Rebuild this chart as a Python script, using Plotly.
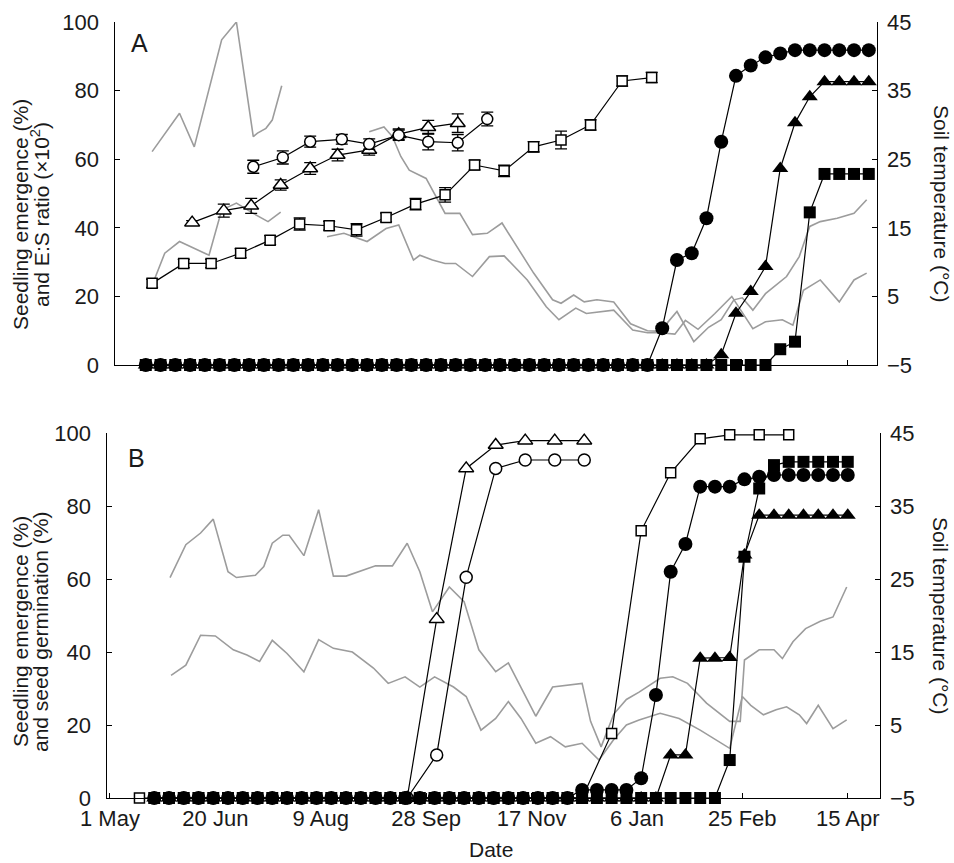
import plotly.graph_objects as go

# ---------------- data ----------------
tick_days = [0, 50, 100, 150, 200, 250, 300, 350]
tick_text = ["1 May", "20 Jun", "9 Aug", "28 Sep", "17 Nov", "6 Jan", "25 Feb", "15 Apr"]
pct_ticks = [0, 20, 40, 60, 80, 100]
pct_text = ["0", "20", "40", "60", "80", "100"]
temp_ticks = [-5, 5, 15, 25, 35, 45]
temp_text = ["\u22125", "5", "15", "25", "35", "45"]

# Panel A - open series with error bars
a_sq_days = [20, 35, 48, 62, 76, 90, 104, 117, 131, 145, 159, 173, 187, 201, 214, 228, 243, 257]
a_sq_vals = [23.8, 29.6, 29.6, 32.6, 36.4, 41.1, 40.6, 39.4, 43.0, 46.9, 49.6, 58.3, 56.6, 63.6, 65.6, 70.0, 82.8, 83.8]
a_sq_err = [1.2, 1.2, 1.2, 1.3, 1.3, 1.8, 1.3, 1.8, 1.3, 1.7, 2.1, 1.4, 1.7, 1.5, 2.6, 1.5, 1.5, 1.5]

a_ci_days = [68, 82, 95, 110, 123, 137, 151, 165, 179]
a_ci_vals = [57.8, 60.5, 65.1, 65.8, 64.4, 67.0, 65.1, 64.8, 71.7]
a_ci_err = [1.9, 1.9, 1.6, 1.4, 1.5, 1.5, 2.4, 2.4, 2.0]

a_tr_days = [39, 54, 67, 81, 95, 108, 123, 137, 151, 165]
a_tr_vals = [41.5, 45.0, 46.4, 52.5, 57.3, 61.2, 62.7, 67.3, 69.3, 70.5]
a_tr_err = [0.6, 1.9, 2.2, 1.5, 1.7, 1.7, 1.5, 1.5, 2.0, 2.7]

# Panel A - weekly seedling emergence (filled symbols)
a_week = [17, 24, 31, 38, 45, 52, 59, 66, 73, 80, 87, 94, 101, 108, 115, 122, 129, 136, 143, 150,
          157, 164, 171, 178, 185, 192, 199, 206, 213, 220, 227, 234, 241, 248, 255, 262, 269, 276,
          283, 290, 297, 304, 311, 318, 325, 332, 339, 346, 353, 360]
a_fci = [0, 0, 0, 0, 0, 0, 0, 0, 0, 0, 0, 0, 0, 0, 0, 0, 0, 0, 0, 0,
         0, 0, 0, 0, 0, 0, 0, 0, 0, 0, 0, 0, 0, 0, 0, 10.7, 30.6, 32.6,
         42.8, 65.1, 84.3, 87.3, 89.7, 90.8, 91.8, 91.8, 91.8, 91.8, 91.8, 91.8]
a_ftr = [0, 0, 0, 0, 0, 0, 0, 0, 0, 0, 0, 0, 0, 0, 0, 0, 0, 0, 0, 0,
         0, 0, 0, 0, 0, 0, 0, 0, 0, 0, 0, 0, 0, 0, 0, 0, 0, 0,
         0, 3.0, 15.1, 21.4, 28.7, 57.3, 70.6, 78.2, 82.6, 82.6, 82.6, 82.6]
a_fsq = [0, 0, 0, 0, 0, 0, 0, 0, 0, 0, 0, 0, 0, 0, 0, 0, 0, 0, 0, 0,
         0, 0, 0, 0, 0, 0, 0, 0, 0, 0, 0, 0, 0, 0, 0, 0, 0, 0,
         0, 0, 0, 0, 0, 4.6, 6.8, 44.5, 55.7, 55.7, 55.7, 55.7]

# Panel A - soil temperature (None = gap in record)
a_tmax_days = [20, 33, 40, 53, 60, 68, 70, 74, 77, 81.5, None,
               123, 130, 134, 138, 142, 150, 159, 166, 172, 179, 186, 194, 201, 210, 214, 220, 225,
               231, 239, 247, 255, 261, 269, 277, 284, 290, 296, 300, 305, 311, 321, 327, 332, 337,
               345, 353, 359]
a_tmax = [26.1, 31.7, 26.8, 42.4, 45.0, 28.3, 28.8, 29.5, 30.7, 35.7, None,
          29.0, 29.7, 28.3, 25.4, 23.4, 22.2, 17.1, 17.1, 14.0, 14.2, 15.7, 11.8, 8.4, 4.5, 4.0, 5.2, 4.2,
          4.5, 4.2, 1.0, 0.0, -0.1, 2.8, -1.6, 0.5, 1.6, 4.5, 4.8, 3.0, 5.4, 7.9, 10.8, 15.2, 15.9,
          16.4, 17.1, 19.1]
a_tmin_days = [21, 26, 33, 40, 47, 53, 60, 68, 75, 81, None,
               103, 111, 122, 131, 137, 144, 147, 153, 159, 164, 172, 180, 187, 198, 207, 213, 221,
               226, 239, 248, 255, 261, 268, 273, 279, 287, 295, 305, 311, 319, 324, 329, 337, 346,
               353, 359]
a_tmin = [7.4, 11.3, 13.0, 12.0, 11.0, 17.6, 18.6, 17.1, 15.9, 17.3, None,
          13.7, 14.2, 13.0, 14.9, 15.4, 10.3, 11.0, 10.3, 9.8, 9.8, 7.9, 10.8, 10.9, 7.4, 3.5, 1.6, 3.3,
          2.5, 3.0, 0.1, -0.3, -0.3, -0.5, 1.5, 0.2, 2.5, 5.0, 0.3, 1.3, 1.6, 0.8, 5.9, 7.4, 4.2,
          7.4, 8.4]

# Panel B - seed germination (open symbols)
b_osq_days = [14, 28, 42, 56, 70, 84, 98, 112, 126, 140, 154, 168, 182, 196, 210, 224,
              238, 252, 266, 280, 294, 308, 322]
b_osq = [0, 0, 0, 0, 0, 0, 0, 0, 0, 0, 0, 0, 0, 0, 0, 0,
         17.7, 73.2, 89.1, 98.4, 99.5, 99.5, 99.5]
b_oxx_days = [141, 155, 169, 183, 197, 211, 225]
b_otr = [0, 49.0, 90.3, 96.7, 97.9, 97.9, 97.9]
b_oci = [0, 11.8, 60.5, 90.3, 92.6, 92.6, 92.6]

# Panel B - weekly seedling emergence (filled symbols)
b_week = [21, 28, 35, 42, 49, 56, 63, 70, 77, 84, 91, 98, 105, 112, 119, 126, 133, 140, 147, 154,
          161, 168, 175, 182, 189, 196, 203, 210, 217, 224, 231, 238, 245, 252, 259, 266, 273, 280,
          287, 294, 301, 308, 315, 322, 329, 336, 343, 350]
b_fci = [0, 0, 0, 0, 0, 0, 0, 0, 0, 0, 0, 0, 0, 0, 0, 0, 0, 0, 0, 0,
         0, 0, 0, 0, 0, 0, 0, 0, 0, 2.2, 2.2, 2.2, 2.2, 5.4, 28.2, 62.0, 69.6, 85.3,
         85.3, 85.3, 87.3, 88.0, 88.5, 88.5, 88.5, 88.5, 88.5, 88.5]
b_ftr = [0, 0, 0, 0, 0, 0, 0, 0, 0, 0, 0, 0, 0, 0, 0, 0, 0, 0, 0, 0,
         0, 0, 0, 0, 0, 0, 0, 0, 0, 0, 0, 0, 0, 0, 0, 11.8, 11.8, 38.3,
         38.3, 38.5, 66.6, 77.5, 77.5, 77.5, 77.5, 77.5, 77.5, 77.5]
b_fsq = [0, 0, 0, 0, 0, 0, 0, 0, 0, 0, 0, 0, 0, 0, 0, 0, 0, 0, 0, 0,
         0, 0, 0, 0, 0, 0, 0, 0, 0, 0, 0, 0, 0, 0, 0, 0, 0, 0,
         0, 10.4, 66.1, 84.8, 91.2, 92.1, 92.1, 92.1, 92.1, 92.1]

# Panel B - soil temperature
b_tmax_days = [28.5, 36, 43, 49, 56, 60, 69, 73, 77, 82, 85, 92, 99, 106, 112, 120, 126, 134, 141,
               147, 153, 161, 168, 175, 183, 189, 195, 202, 210, 217, 224, 228, 233, 239, 245, 251,
               261, 267, 274, 283, 294, 299, 301, 308, 315, 319, 324, 330, 337, 343, 349.5]
b_tmax = [25.2, 29.7, 31.3, 33.2, 26.0, 25.2, 25.5, 26.7, 29.9, 31.0, 31.0, 28.2, 34.5, 25.4, 25.4,
          26.2, 26.8, 26.8, 29.9, 26.0, 20.5, 23.9, 21.9, 15.3, 12.3, 13.5, 10.2, 6.2, 10.2, 10.5,
          10.7, 5.5, 2.0, 6.5, 8.5, 9.5, 11.4, 11.6, 10.7, 8.0, 5.5, 5.5, 13.9, 15.3, 15.3, 14.1,
          16.4, 18.2, 19.2, 19.8, 23.9]
b_tmin_days = [29, 36, 43, 50, 58.5, 65, 71, 77, 84, 92, 99, 106, 115, 125, 132, 140, 147, 154, 163,
               169, 176, 183, 189, 195, 202, 209, 216, 224, 232, 239, 245, 251, 261, 270, 280, 294,
               300, 304, 310, 316, 321, 327, 330.5, 336, 343, 349.5]
b_tmin = [11.8, 13.2, 17.3, 17.2, 15.3, 14.6, 13.7, 16.6, 14.8, 12.3, 16.7, 15.5, 15.0, 12.8, 10.7,
          11.6, 10.2, 11.6, 10.2, 8.9, 4.3, 5.9, 8.2, 5.9, 2.5, 3.4, 2.0, 2.5, 0.2, 3.0, 5.0, 5.7,
          6.6, 5.9, 4.3, 1.8, 8.9, 7.7, 6.4, 7.1, 7.5, 6.4, 5.2, 7.7, 4.5, 5.7]

# ---------------- layout geometry ----------------
W, H = 954, 863
ML, MR, MT, MB = 107, 74, 22, 65
PW, PH = W - ML - MR, H - MT - MB


def fx(p):
    return (p - ML) / PW


def fy(p):
    return (H - MB - p) / PH


FONT = "Liberation Sans, Arial, Helvetica, sans-serif"
TXT = "#1a1a1a"
GREY = "#9c9c9c"
LPAD = "\u00a0\u2009"   # small gap between left tick labels and axis
RPAD = "\u2009"         # small gap between axis and right tick labels
fig = go.Figure()


def temp_line(xs, ys, xa, ya):
    fig.add_trace(go.Scatter(x=xs, y=ys, mode="lines", xaxis=xa, yaxis=ya,
                             line=dict(color=GREY, width=1.6), connectgaps=False,
                             hoverinfo="skip", showlegend=False))


def series(xs, ys, xa, ya, symbol, size, filled, err=None):
    mk = dict(symbol=symbol, size=size,
              color="black" if filled else "white",
              line=dict(color="black", width=0 if filled else 1.5))
    kw = {}
    if err is not None:
        kw["error_y"] = dict(type="data", array=err, visible=True, color="black",
                             thickness=1.3, width=6)
    fig.add_trace(go.Scatter(x=xs, y=ys, mode="lines+markers", xaxis=xa, yaxis=ya,
                             marker=mk, line=dict(color="black", width=1.2),
                             cliponaxis=False, showlegend=False, **kw))


# Panel A
temp_line(a_tmax_days, a_tmax, "x", "y")
temp_line(a_tmin_days, a_tmin, "x", "y")
series(a_sq_days, a_sq_vals, "x", "y2", "square", 10, False, a_sq_err)
series(a_tr_days, a_tr_vals, "x", "y2", "triangle-up", 13, False, a_tr_err)
series(a_ci_days, a_ci_vals, "x", "y2", "circle", 11, False, a_ci_err)
series(a_week, a_fsq, "x", "y2", "square", 12, True)
series(a_week, a_ftr, "x", "y2", "triangle-up", 14, True)
series(a_week, a_fci, "x", "y2", "circle", 14, True)

# Panel B
temp_line(b_tmax_days, b_tmax, "x2", "y3")
temp_line(b_tmin_days, b_tmin, "x2", "y3")
series(b_osq_days, b_osq, "x2", "y4", "square", 10, False)
series(b_oxx_days, b_otr, "x2", "y4", "triangle-up", 13, False)
series(b_oxx_days, b_oci, "x2", "y4", "circle", 12, False)
series(b_week, b_fsq, "x2", "y4", "square", 12, True)
series(b_week, b_ftr, "x2", "y4", "triangle-up", 14, True)
series(b_week, b_fci, "x2", "y4", "circle", 14, True)

axis_common = dict(showline=True, linecolor="black", linewidth=1.2, ticks="inside",
                   ticklen=5, tickwidth=1.2, tickcolor="black", showgrid=False,
                   zeroline=False, tickfont=dict(family=FONT, size=22, color=TXT))

left_text = [t + LPAD for t in pct_text]
right_text = [RPAD + t for t in temp_text]

fig.update_layout(
    width=W, height=H, margin=dict(l=ML, r=MR, t=MT, b=MB, autoexpand=False),
    paper_bgcolor="white", plot_bgcolor="white", showlegend=False,
    font=dict(family=FONT, color=TXT),
    xaxis=dict(domain=[fx(115), fx(877)], anchor="y", range=[2.4, 363.9],
               tickvals=tick_days, showticklabels=False, **axis_common),
    yaxis=dict(domain=[fy(365), 1.0], anchor="x", side="right", range=[-5, 45],
               tickvals=temp_ticks, ticktext=right_text, **axis_common),
    yaxis2=dict(overlaying="y", anchor="x", side="left", range=[0, 100],
                tickvals=pct_ticks, ticktext=left_text, **axis_common),
    xaxis2=dict(domain=[0, 1], anchor="y3", range=[-1.4, 365.3],
                tickvals=tick_days, ticktext=tick_text, **axis_common),
    yaxis3=dict(domain=[0, fy(433)], anchor="x2", side="right", range=[-5, 45],
                tickvals=temp_ticks, ticktext=right_text, **axis_common),
    yaxis4=dict(overlaying="y3", anchor="x2", side="left", range=[0, 100],
                tickvals=pct_ticks, ticktext=left_text, **axis_common),
)

anns = [
    ("A", 139, 43, 0, 25),
    ("B", 136, 458, 0, 25),
    ("Seedling emergence (%)", 20, 215, -90, 21),
    ("and E:S ratio (\u00d710<sup>2</sup>)", 40, 215, -90, 21),
    ("Seedling emergence (%)", 20, 632, -90, 21),
    ("and seed germination (%)", 40, 632, -90, 21),
    ("Soil temperature (\u00b0C)", 941, 203, 90, 21),
    ("Soil temperature (\u00b0C)", 941, 615, 90, 21),
    ("Date", 491, 849, 0, 21),
]
for text, x, y, ang, sz in anns:
    fig.add_annotation(text=text, x=fx(x), y=fy(y), xref="paper", yref="paper",
                       xanchor="center", yanchor="middle", textangle=ang, showarrow=False,
                       font=dict(family=FONT, size=sz, color=TXT))

fig.write_html("out.html")
